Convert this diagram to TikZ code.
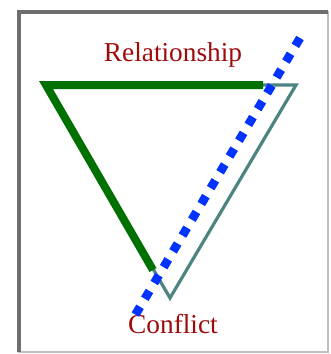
\documentclass[tikz,border=0pt]{standalone}
\usepackage{fontspec}
\setmainfont{Liberation Serif}
\definecolor{LBLcolor}{HTML}{9E0B0B}
\definecolor{RELcolor}{HTML}{007000}
\definecolor{TRIcolor}{HTML}{4C8482}
\definecolor{CUTcolor}{HTML}{0033FF}
\definecolor{BOXcolor}{HTML}{6E6E6E}

\begin{document}
\begin{tikzpicture}[x=0.75pt, y=-0.75pt,
  lbl/.style={text=LBLcolor, font=\fontsize{20.5}{22}\selectfont, inner sep=0pt},
  edgeline/.style={TRIcolor, line width=2.4pt, line join=miter},
  relline/.style={RELcolor, line width=6pt, line join=miter},
  cutline/.style={CUTcolor, line width=6.5pt, dash pattern=on 6.8pt off 7pt}]
  \useasboundingbox (0,0) rectangle (330,354);
  % frame
  \draw[BOXcolor!45, line width=1.5pt] (19,12) rectangle (328,352);
  \draw[BOXcolor, line width=2.4pt] (19,352) -- (19,12) -- (328,12);
  % corners of the triangle
  \coordinate (tl) at (46,85);
  \coordinate (tr) at (296,85);
  \coordinate (bt) at (170,298);
  \coordinate (gr) at (263,85);
  \coordinate (gb) at (153,270);
  \coordinate (c1) at (300,38);
  \coordinate (c2) at (131,322);
  \node[lbl] (rel) at (173,55) {Relationship};
  \node[lbl] (con) at (173,324) {Conflict};
  \draw[edgeline] (tl) -- (tr) -- (bt) -- cycle;
  \draw[relline] (gr) -- (tl) -- (gb);
  \draw[cutline] (c1) -- (c2);
\end{tikzpicture}
\end{document}
